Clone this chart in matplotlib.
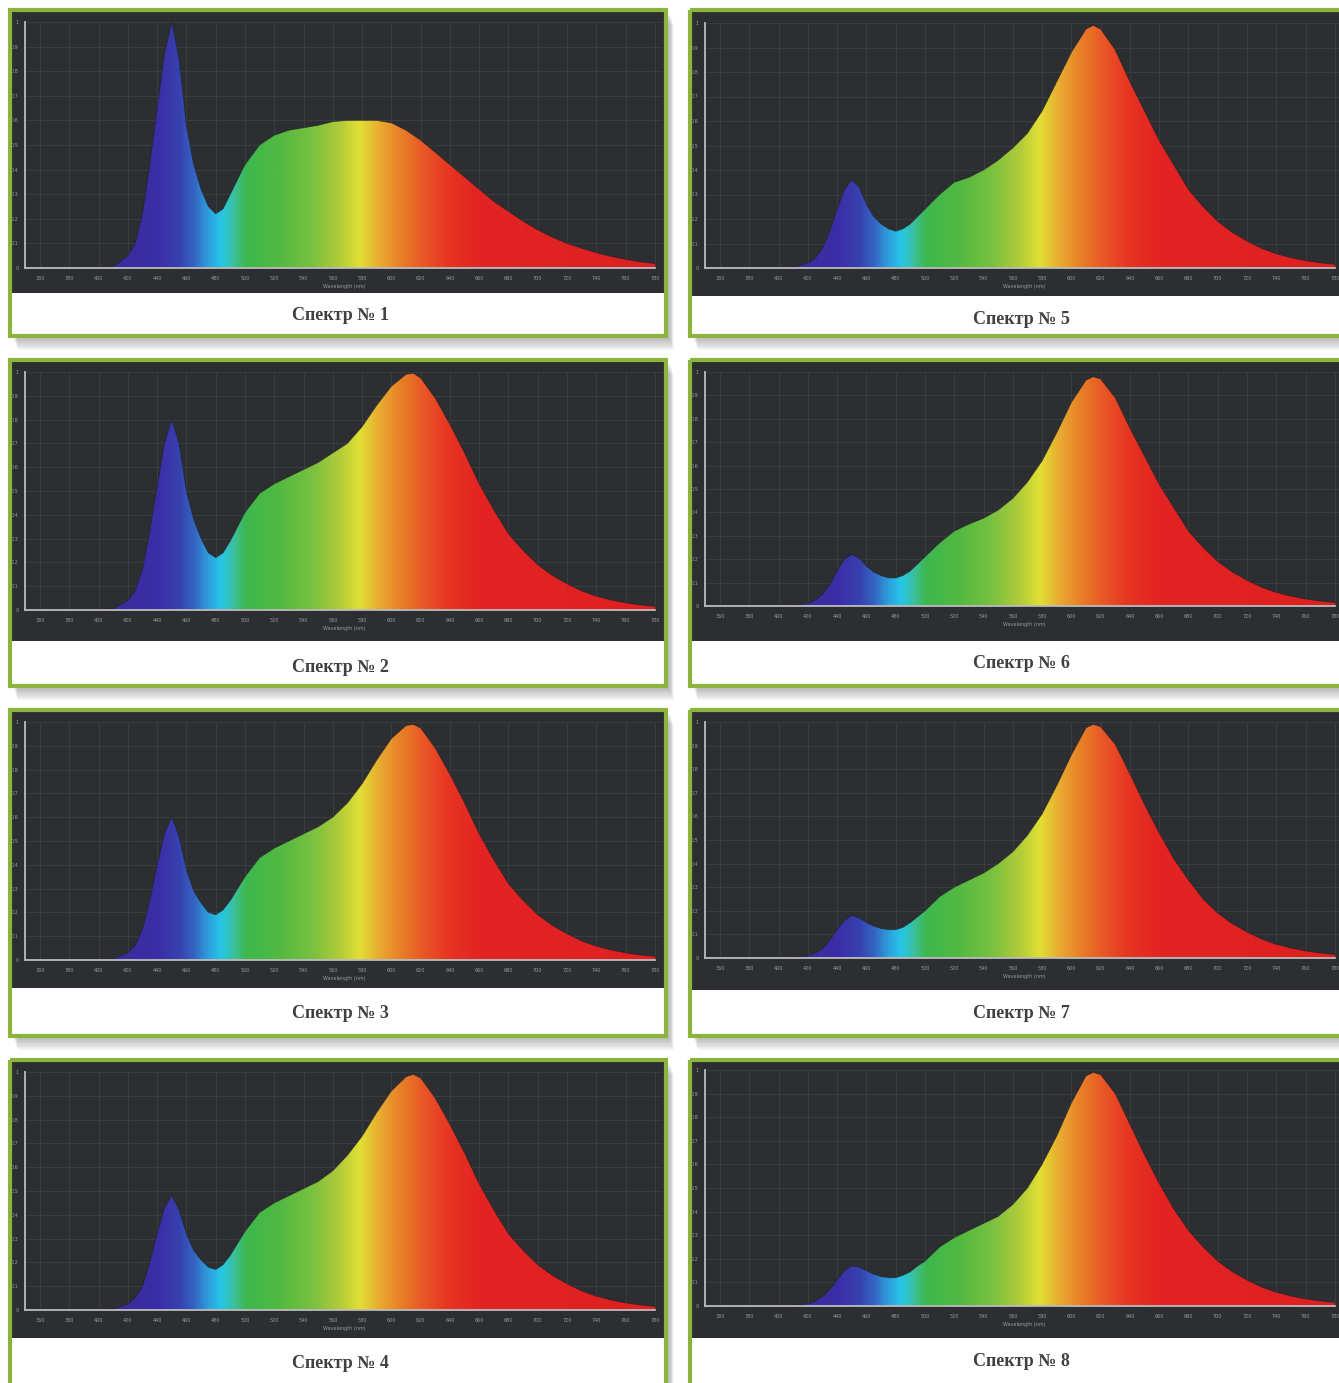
"""Eight LED spectra (Спектр № 1..8) with spectral-gradient fill."""

import matplotlib

matplotlib.use("Agg")

import matplotlib.pyplot as plt  # noqa: E402
import numpy as np  # noqa: E402
from matplotlib.colors import LinearSegmentedColormap  # noqa: E402
from matplotlib.patches import Rectangle  # noqa: E402

W, H = 1339, 1383

# ---------------------------------------------------------------------------
# Data (relative intensity)
# ---------------------------------------------------------------------------

wavelength = [400, 410, 420, 425, 430, 435, 440, 445, 450, 455, 460, 465, 470,
              475, 480, 485, 490, 495, 500, 510, 520, 530, 540, 550, 560, 570,
              580, 590, 600, 610, 615, 620, 630, 640, 650, 660, 670, 680, 690,
              700, 710, 720, 730, 740, 750, 760, 770, 780]

red_tail = [0.32, 0.25, 0.19, 0.145, 0.11, 0.08, 0.058, 0.042, 0.03, 0.021, 0.015]

spectrum_1 = [0, 0.005, 0.05, 0.10, 0.22, 0.42, 0.65, 0.87, 1.0, 0.85, 0.58, 0.42,
              0.32, 0.25, 0.22, 0.24, 0.30, 0.36, 0.42, 0.50, 0.54, 0.56, 0.57,
              0.58, 0.595, 0.60, 0.60, 0.60, 0.59, 0.56, 0.54, 0.52, 0.47, 0.42,
              0.37, 0.32, 0.27, 0.23, 0.19, 0.155, 0.125, 0.10, 0.08, 0.062,
              0.047, 0.035, 0.025, 0.018]
spectrum_2 = [0, 0.005, 0.04, 0.08, 0.17, 0.33, 0.52, 0.70, 0.80, 0.70, 0.50, 0.38,
              0.30, 0.24, 0.22, 0.24, 0.29, 0.35, 0.41, 0.49, 0.53, 0.56, 0.59,
              0.62, 0.66, 0.70, 0.77, 0.86, 0.94, 0.99, 0.995, 0.975, 0.89, 0.78,
              0.66, 0.53, 0.42] + red_tail
spectrum_3 = [0, 0.004, 0.03, 0.06, 0.13, 0.25, 0.40, 0.53, 0.60, 0.52, 0.38, 0.29,
              0.24, 0.20, 0.19, 0.21, 0.25, 0.30, 0.35, 0.43, 0.47, 0.50, 0.53,
              0.56, 0.60, 0.66, 0.74, 0.84, 0.93, 0.985, 0.99, 0.975, 0.89, 0.78,
              0.66, 0.53, 0.42] + red_tail
spectrum_4 = [0, 0.004, 0.025, 0.05, 0.10, 0.20, 0.32, 0.43, 0.48, 0.42, 0.32, 0.25,
              0.21, 0.18, 0.17, 0.19, 0.23, 0.28, 0.33, 0.41, 0.45, 0.48, 0.51,
              0.54, 0.585, 0.65, 0.73, 0.83, 0.92, 0.98, 0.99, 0.975, 0.89, 0.78,
              0.66, 0.53, 0.42] + red_tail
spectrum_5 = [0, 0.003, 0.02, 0.04, 0.08, 0.15, 0.24, 0.32, 0.36, 0.33, 0.26, 0.21,
              0.18, 0.16, 0.15, 0.16, 0.18, 0.21, 0.24, 0.30, 0.35, 0.37, 0.40,
              0.44, 0.49, 0.55, 0.64, 0.76, 0.88, 0.975, 0.99, 0.975, 0.89, 0.76,
              0.64, 0.52, 0.42] + red_tail
spectrum_6 = [0, 0.002, 0.012, 0.025, 0.05, 0.09, 0.15, 0.20, 0.22, 0.205, 0.17,
              0.145, 0.13, 0.12, 0.12, 0.13, 0.15, 0.18, 0.21, 0.27, 0.32, 0.35,
              0.375, 0.41, 0.46, 0.53, 0.62, 0.74, 0.87, 0.965, 0.98, 0.97, 0.89,
              0.76, 0.64, 0.52, 0.42] + red_tail
spectrum_7 = [0, 0.002, 0.01, 0.02, 0.04, 0.075, 0.12, 0.16, 0.18, 0.17, 0.15,
              0.135, 0.125, 0.12, 0.12, 0.13, 0.15, 0.175, 0.20, 0.26, 0.30, 0.33,
              0.36, 0.40, 0.45, 0.52, 0.61, 0.73, 0.86, 0.975, 0.99, 0.98, 0.905,
              0.78, 0.65, 0.53, 0.42, 0.33, 0.25, 0.19, 0.145, 0.11, 0.08, 0.058,
              0.042, 0.03, 0.021, 0.015]
spectrum_8 = [0, 0.002, 0.01, 0.02, 0.04, 0.07, 0.11, 0.15, 0.17, 0.165, 0.15,
              0.135, 0.125, 0.12, 0.12, 0.13, 0.145, 0.17, 0.19, 0.25, 0.29, 0.32,
              0.35, 0.38, 0.43, 0.50, 0.60, 0.72, 0.86, 0.975, 0.99, 0.98, 0.90,
              0.77, 0.64, 0.52, 0.41] + red_tail

spectra = [spectrum_1, spectrum_2, spectrum_3, spectrum_4,
           spectrum_5, spectrum_6, spectrum_7, spectrum_8]
captions = ["Спектр № 1", "Спектр № 2", "Спектр № 3", "Спектр № 4",
            "Спектр № 5", "Спектр № 6", "Спектр № 7", "Спектр № 8"]

x_ticks = list(range(360, 781, 20))
y_ticks = [0, 0.1, 0.2, 0.3, 0.4, 0.5, 0.6, 0.7, 0.8, 0.9, 1]
y_tick_labels = ["0", "0.1", "0.2", "0.3", "0.4", "0.5", "0.6", "0.7", "0.8", "0.9", "1"]

# Spectral colour stops (nm -> colour)
color_stops = [
    (400, "#3a2a98"), (440, "#3b2ea6"), (455, "#3742b0"), (465, "#3468c4"),
    (475, "#2ca4de"), (483, "#26c6e6"), (492, "#3cbf9a"), (500, "#3db84e"),
    (520, "#4fb842"), (545, "#78c040"), (565, "#b4cc38"), (578, "#e2e034"),
    (590, "#e8b030"), (605, "#e88228"), (620, "#e85a26"), (640, "#e63322"),
    (660, "#e42424"), (780, "#de2020"),
]

# ---------------------------------------------------------------------------
# Layout (image pixels)
# ---------------------------------------------------------------------------

col_dx = [0, 680]
row_top = [10, 360, 710, 1060]
dark_bottom = [[293, 641, 988, 1338], [296, 641, 990, 1338]]
axis_top = [[22, 372, 722, 1072], [23, 372, 722, 1070]]
axis_zero = [[268, 610, 960, 1310], [268, 606, 958, 1306]]
caption_y = [[316, 668, 1014, 1364], [320, 664, 1014, 1362]]

GREEN = "#8cb43c"
DARK = "#2c2e31"
GRIDC = "#3d4044"
AXC = "#bcbcbc"
LABC = "#9a9a9a"

X_MIN, X_MAX = 350, 785
PX_PER_NM = 1.464


def nm_to_px(nm, dx):
    return 40 + (nm - 360) * PX_PER_NM + dx


fig = plt.figure(figsize=(W / 100, H / 100), dpi=100)
fig.patch.set_facecolor("white")

bg = fig.add_axes([0, 0, 1, 1])
bg.set_xlim(0, W)
bg.set_ylim(H, 0)
bg.axis("off")

stops = np.array([s[0] for s in color_stops], dtype=float)
cmap = LinearSegmentedColormap.from_list(
    "spectrum",
    [((s - stops[0]) / (stops[-1] - stops[0]), c) for s, c in color_stops],
)
gradient = np.linspace(0, 1, 800).reshape(1, -1)

for i, (vals, cap) in enumerate(zip(spectra, captions)):
    col, row = divmod(i, 4)
    dx = col_dx[col]
    x0, x1 = 10 + dx, 666 + dx
    y0 = row_top[row]
    y1 = y0 + 326

    # soft drop shadow, mostly below the card
    for k in range(10):
        bg.add_patch(Rectangle((x0 + 4 + k * 0.4, y0 + 4 + k * 1.1),
                               x1 - x0, y1 - y0,
                               facecolor="#6e6e6e", edgecolor="none",
                               alpha=0.05, zorder=1))
    # white card + dark chart area + green frame
    bg.add_patch(Rectangle((x0, y0), x1 - x0, y1 - y0, facecolor="white",
                           edgecolor="none", zorder=2))
    bg.add_patch(Rectangle((x0 + 2, y0 + 2), x1 - x0 - 4,
                           dark_bottom[col][row] - y0 - 2,
                           facecolor=DARK, edgecolor="none", zorder=3))
    bg.add_patch(Rectangle((x0, y0), x1 - x0, y1 - y0, facecolor="none",
                           edgecolor=GREEN, linewidth=3, zorder=4))
    bg.text(340 + dx + (1 if col else 0), caption_y[col][row], cap,
            ha="center", va="center", fontsize=13, fontweight="bold",
            color="#404040", family=["Liberation Serif", "DejaVu Serif"],
            zorder=5)

    # plot axes
    ax_l = nm_to_px(X_MIN, dx)
    ax_r = nm_to_px(X_MAX, dx)
    ax_t = axis_top[col][row]
    ax_b = axis_zero[col][row]
    ax = fig.add_axes([ax_l / W, 1 - ax_b / H, (ax_r - ax_l) / W, (ax_b - ax_t) / H])
    ax.set_facecolor("none")

    poly = ax.fill_between(wavelength, vals, 0, facecolor="none", edgecolor="none")
    img = ax.imshow(gradient, extent=[400, 780, 0, 1], aspect="auto", cmap=cmap,
                    origin="lower", zorder=2, interpolation="bilinear")
    img.set_clip_path(poly.get_paths()[0], transform=ax.transData)
    ax.plot(wavelength, vals, color="#1e1f22", linewidth=0.6, alpha=0.6, zorder=3)

    ax.set_xlim(X_MIN, X_MAX)
    ax.set_ylim(0, 1)
    ax.set_xticks(x_ticks)
    ax.set_xticklabels([str(t) for t in x_ticks])
    ax.set_yticks(y_ticks)
    ax.set_yticklabels(y_tick_labels)
    ax.tick_params(length=0, labelsize=3.5, colors=LABC, pad=6)
    ax.tick_params(axis="y", pad=5)
    ax.set_xlabel("Wavelength (nm)", fontsize=3.5, color=LABC, labelpad=2)
    ax.grid(True, color=GRIDC, linewidth=0.6, zorder=0)
    ax.set_axisbelow(True)

    for side in ("top", "right"):
        ax.spines[side].set_visible(False)
    ax.spines["left"].set_color(AXC)
    ax.spines["bottom"].set_color(AXC)
    ax.spines["left"].set_linewidth(1.3)
    ax.spines["bottom"].set_linewidth(1.3)
    ax.spines["bottom"].set_bounds(X_MIN, 780)
    ax.spines["bottom"].set_zorder(4)

fig.savefig("out.png", dpi=100, facecolor="white")
